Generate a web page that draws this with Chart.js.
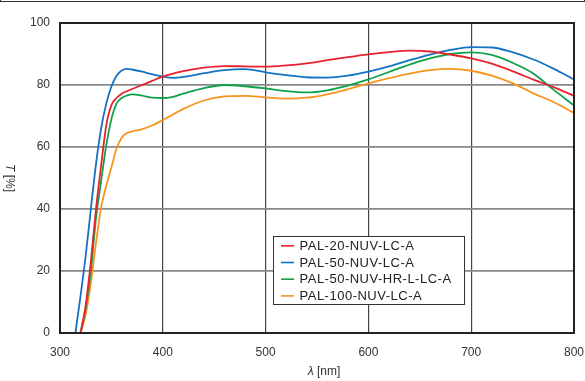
<!DOCTYPE html>
<html>
<head>
<meta charset="utf-8">
<script src="https://cdn.jsdelivr.net/npm/chart.js@4"></script>
<style>
    html, body { margin: 0; padding: 0; background: #fff; }
    #wrap { position: relative; width: 585px; height: 381px; overflow: hidden; }
    #frame { position: absolute; left: 0; top: -12px; width: 585px; height: 14px; box-sizing: border-box; border: 1.5px solid #333; }
    canvas { position: absolute; left: 0; top: 0; }
</style>
</head>
<body>
<div id="wrap">
    <canvas id="chart" width="585" height="381"></canvas>
    <div id="frame"></div>
</div>
<script>
// Transmission curves
const wavelengths = [315, 320, 325, 330, 335, 340, 345, 350, 355, 360, 365, 370,
    380, 390, 400, 410, 420,
    440, 460, 480, 500, 520, 540, 560, 580, 600, 620, 640, 660, 680, 700, 720, 740, 760, 780, 800];

const pal20 = [null, 0, 9, 23, 40, 54, 67, 73.5, 75.8, 77.2, 78.0, 78.7,
    80.0, 81.4, 82.7, 83.7, 84.5,
    85.6, 86.1, 86.0, 85.9, 86.3, 87.0, 88.0, 89.0, 89.9, 90.6, 91.1, 90.8, 89.8, 88.6, 86.9, 84.5, 81.8, 79.3, 76.5];

const pal50 = [0, 12, 25, 40, 54.5, 66, 74, 79.5, 83, 84.7, 85.2, 85.0,
    84.3, 83.4, 82.7, 82.3, 82.6,
    83.8, 84.8, 85.1, 84.1, 83.2, 82.5, 82.4, 83.0, 84.3, 86.0, 88.0, 89.8, 91.3, 92.2, 92.1, 90.6, 88.3, 85.3, 81.8];

const pal50hr = [null, 0, 8, 20, 37, 49, 60.5, 69, 74, 75.8, 76.6, 77.0,
    76.6, 75.9, 75.8, 76.2, 77.2,
    79.0, 80.0, 79.6, 78.9, 78.0, 77.6, 78.3, 79.8, 81.8, 84.2, 86.6, 88.6, 90.0, 90.5, 89.7, 87.2, 83.8, 78.5, 73.4];

const pal100 = [null, 0, 6, 16, 29, 40.5, 47.5, 53.5, 59.5, 63, 64.5, 65,
    65.8, 67, 68.7, 70.5, 72.3,
    75.0, 76.3, 76.5, 76.0, 75.6, 75.9, 77.0, 78.6, 80.5, 82.2, 83.7, 84.8, 85.2, 84.6, 83.0, 80.6, 77.4, 74.5, 71.0];

const seriesLabels = ['PAL-20-NUV-LC-A', 'PAL-50-NUV-LC-A', 'PAL-50-NUV-HR-L-LC-A', 'PAL-100-NUV-LC-A'];
const seriesColors = ['#e8232e', '#1472c4', '#0ea04c', '#f7941d'];

const FONT = '"Liberation Sans", Arial, Helvetica, sans-serif';

function toPoints(vals) {
    return wavelengths.map((w, i) => ({ x: w, y: vals[i] })).filter(p => p.y !== null);
}

function drawMixed(ctx, parts, cx, cy) {
    let total = 0;
    parts.forEach(p => { ctx.font = p[0]; total += ctx.measureText(p[1]).width; });
    let x = cx - total / 2;
    ctx.textAlign = 'left';
    parts.forEach(p => {
        ctx.font = p[0];
        ctx.fillText(p[1], x, cy);
        x += ctx.measureText(p[1]).width;
    });
}

// plot frame on top of the curves
const plotFrame = {
    id: 'plotFrame',
    afterDatasetsDraw(chart) {
        const { ctx, chartArea: a } = chart;
        ctx.save();
        ctx.strokeStyle = '#222';
        ctx.lineWidth = 2;
        ctx.strokeRect(a.left, a.top, a.right - a.left, a.bottom - a.top);
        ctx.restore();
    }
};

// axis titles with italic symbols; y title reads top to bottom
const axisTitles = {
    id: 'axisTitles',
    afterDraw(chart) {
        const { ctx, chartArea: a } = chart;
        ctx.save();
        ctx.fillStyle = '#333';
        ctx.textBaseline = 'middle';
        drawMixed(ctx, [['italic 12px ' + FONT, 'λ'], ['12px ' + FONT, ' [nm]']], 324, 372);
        ctx.translate(9, (a.top + a.bottom) / 2);
        ctx.rotate(Math.PI / 2);
        drawMixed(ctx, [['italic 12px ' + FONT, 'T'], ['12px ' + FONT, ' [%]']], 0, 0);
        ctx.restore();
    }
};

// boxed legend inside the plot
const boxLegend = {
    id: 'boxLegend',
    afterDraw(chart) {
        const ctx = chart.ctx;
        const x0 = 273.5, y0 = 236.5, w = 191, h = 68;
        ctx.save();
        ctx.fillStyle = '#fff';
        ctx.fillRect(x0, y0, w, h);
        ctx.strokeStyle = '#333';
        ctx.lineWidth = 1;
        ctx.strokeRect(x0, y0, w, h);
        ctx.font = '13px ' + FONT;
        ctx.letterSpacing = '0.5px';
        ctx.textBaseline = 'middle';
        ctx.textAlign = 'left';
        chart.data.datasets.forEach((ds, i) => {
            const y = y0 + 9.3 + i * 16.7;
            ctx.strokeStyle = ds.borderColor;
            ctx.lineWidth = 1.6;
            ctx.beginPath();
            ctx.moveTo(281, y);
            ctx.lineTo(294, y);
            ctx.stroke();
            ctx.fillStyle = '#222';
            ctx.fillText(ds.label, 299.5, y + 0.5);
        });
        ctx.restore();
    }
};

const allSeries = [pal20, pal50, pal50hr, pal100];

new Chart(document.getElementById('chart'), {
    type: 'line',
    data: {
        datasets: allSeries.map((vals, i) => ({
            label: seriesLabels[i],
            data: toPoints(vals),
            borderColor: seriesColors[i],
            backgroundColor: seriesColors[i],
            borderWidth: 1.8,
            pointRadius: 0,
            cubicInterpolationMode: 'monotone',
            fill: false
        }))
    },
    options: {
        responsive: false,
        animation: false,
        devicePixelRatio: 1,
        layout: { padding: { left: 0, right: 11, top: 23, bottom: 0 } },
        plugins: { legend: { display: false }, tooltip: { enabled: false } },
        scales: {
            x: {
                type: 'linear', min: 300, max: 800,
                ticks: { stepSize: 100, color: '#333', padding: 12, font: { family: FONT, size: 12 } },
                grid: { color: '#444', lineWidth: 1.2, drawTicks: false },
                border: { display: false },
                afterFit: s => { s.height = 48; s.paddingLeft = 0; s.paddingRight = 0; }
            },
            y: {
                min: 0, max: 100,
                ticks: { stepSize: 20, color: '#333', padding: 10, font: { family: FONT, size: 12 } },
                grid: { color: '#888', lineWidth: 1.8, drawTicks: false },
                border: { display: false },
                afterFit: s => { s.width = 60; s.paddingTop = 0; s.paddingBottom = 0; }
            }
        }
    },
    plugins: [plotFrame, axisTitles, boxLegend]
});
</script>
</body>
</html>
